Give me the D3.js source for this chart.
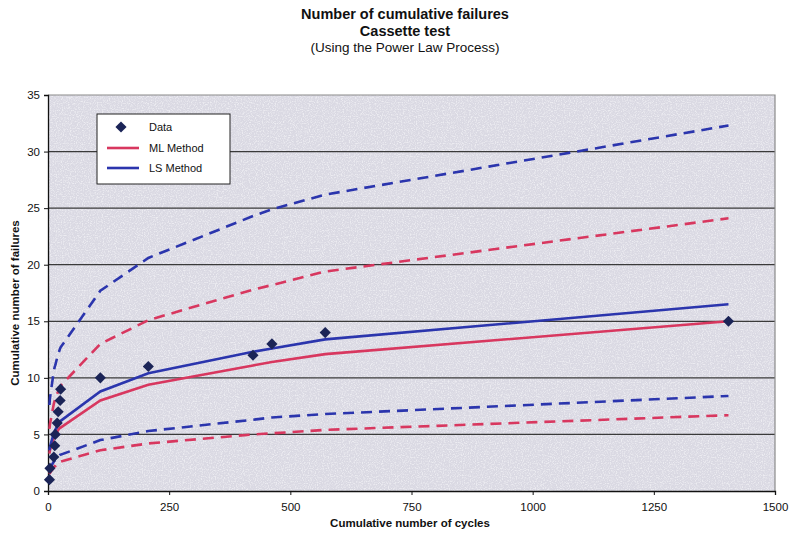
<!DOCTYPE html>
<html>
<head>
<meta charset="utf-8">
<script src="https://cdn.jsdelivr.net/npm/d3@7"></script>
<style>
  html, body { margin: 0; padding: 0; background: #fff; }
  svg { display: block; font-family: "Liberation Sans", Arial, sans-serif; }
</style>
</head>
<body>
<svg id="chart" width="790" height="538"></svg>
<script>
// Observed failure times (cumulative cycles) and the cumulative failure count
const cycles   = [3, 4, 12, 14, 15, 19, 21, 25, 26, 108, 207, 423, 462, 572, 1404];
const failures = [1, 2, 3, 4, 5, 6, 7, 8, 9, 10, 11, 12, 13, 14, 15];

// Power Law Process fits, evaluated at the failure times
const mlFit   = [3.3, 3.6, 4.7, 4.9, 4.9, 5.2, 5.4, 5.6, 5.6, 8.0, 9.4, 11.1, 11.4, 12.1, 15.0];
const mlUpper = [5.5, 5.9, 7.7, 8.0, 8.1, 8.6, 8.8, 9.2, 9.3, 13.0, 15.1, 17.8, 18.2, 19.4, 24.1];
const mlLower = [1.5, 1.6, 2.1, 2.2, 2.2, 2.4, 2.4, 2.5, 2.6, 3.6, 4.2, 5.0, 5.1, 5.4, 6.7];
const lsFit   = [3.6, 3.9, 5.1, 5.3, 5.4, 5.7, 5.9, 6.1, 6.2, 8.8, 10.4, 12.3, 12.6, 13.4, 16.5];
const lsUpper = [7.6, 8.2, 10.6, 11.0, 11.1, 11.8, 12.1, 12.6, 12.7, 17.7, 20.6, 24.3, 24.9, 26.2, 32.3];
const lsLower = [1.9, 2.0, 2.6, 2.7, 2.8, 3.0, 3.0, 3.2, 3.2, 4.5, 5.3, 6.3, 6.5, 6.8, 8.4];

const xTicks = [0, 250, 500, 750, 1000, 1250, 1500];
const yTicks = [0, 5, 10, 15, 20, 25, 30, 35];

const titleLines = ["Number of cumulative failures", "Cassette test", "(Using the Power Law Process)"];
const xTitle = "Cumulative number of cycles";
const yTitle = "Cumulative number of failures";
const legendLabels = ["Data", "ML Method", "LS Method"];

const RED = "#d8375f";
const BLUE = "#2b35ad";
const NAVY = "#1b2457";

const svg = d3.select("#chart");
const plot = { left: 48, top: 95, right: 775, bottom: 491 };

const x = d3.scaleLinear().domain([0, 1500]).range([plot.left, plot.right]);
const y = d3.scaleLinear().domain([0, 35]).range([plot.bottom, plot.top]);

// grainy paper texture for the plot area: sparse white speckles
const defs = svg.append("defs");
const grain = defs.append("filter").attr("id", "grain")
  .attr("x", 0).attr("y", 0).attr("width", "100%").attr("height", "100%");
grain.append("feTurbulence").attr("type", "fractalNoise")
  .attr("baseFrequency", 0.85).attr("numOctaves", 2).attr("seed", 7).attr("result", "n");
grain.append("feColorMatrix").attr("in", "n").attr("type", "matrix")
  .attr("values", "0 0 0 0 1  0 0 0 0 1  0 0 0 0 1  0 0 0 -3.2 1.75");

svg.append("rect")
  .attr("x", plot.left).attr("y", plot.top)
  .attr("width", plot.right - plot.left).attr("height", plot.bottom - plot.top)
  .attr("fill", "#dad9e3");
svg.append("rect")
  .attr("x", plot.left).attr("y", plot.top)
  .attr("width", plot.right - plot.left).attr("height", plot.bottom - plot.top)
  .attr("fill", "#fff").attr("filter", "url(#grain)").attr("opacity", 0.5);

// horizontal gridlines
svg.append("g").selectAll("line")
  .data(yTicks.filter(v => v > 0 && v < 35))
  .join("line")
  .attr("x1", plot.left).attr("x2", plot.right)
  .attr("y1", d => y(d)).attr("y2", d => y(d))
  .attr("stroke", "#3a3a3a").attr("stroke-width", 1.3);

// plot border (top and right)
svg.append("path")
  .attr("d", `M${plot.left},${y(35)}H${plot.right}V${plot.bottom}`)
  .attr("fill", "none").attr("stroke", "#8a8a8a").attr("stroke-width", 1.2);

// axes
const yAxis = d3.axisLeft(y).tickValues(yTicks).tickSize(4).tickPadding(4);
const xAxis = d3.axisBottom(x).tickValues(xTicks).tickFormat(d3.format("d"))
  .tickSize(4).tickPadding(8);

const gy = svg.append("g").attr("transform", `translate(${plot.left},0)`).call(yAxis);
const gx = svg.append("g").attr("transform", `translate(0,${plot.bottom})`).call(xAxis);
[gx, gy].forEach(g => {
  g.selectAll("path.domain").attr("stroke", "#111").attr("stroke-width", 1.3);
  g.selectAll(".tick line").attr("stroke", "#111");
  g.selectAll("text").attr("font-size", 11.5).attr("fill", "#111")
    .attr("font-family", "Liberation Sans, Arial, sans-serif");
});

// fitted curves and confidence bounds
const line = d3.line().x(d => x(d[0])).y(d => y(d[1]));
const series = [
  { values: mlLower, color: RED, dash: "11,7" },
  { values: lsLower, color: BLUE, dash: "11,7" },
  { values: mlUpper, color: RED, dash: "11,7" },
  { values: lsUpper, color: BLUE, dash: "11,7" },
  { values: mlFit, color: RED, dash: null },
  { values: lsFit, color: BLUE, dash: null }
];
svg.append("g").selectAll("path")
  .data(series)
  .join("path")
  .attr("d", s => line(cycles.map((c, i) => [c, s.values[i]])))
  .attr("fill", "none")
  .attr("stroke", s => s.color)
  .attr("stroke-width", 2.6)
  .attr("stroke-dasharray", s => s.dash);

// observed data
const diamond = d3.symbol(d3.symbolSquare, 62)();
svg.append("g").selectAll("path")
  .data(cycles.map((c, i) => [c, failures[i]]))
  .join("path")
  .attr("d", diamond)
  .attr("transform", d => `translate(${x(d[0])},${y(d[1])}) rotate(45)`)
  .attr("fill", NAVY);

// titles
const title = svg.append("g").attr("text-anchor", "middle").attr("fill", "#111");
title.append("text").attr("x", 405).attr("y", 19)
  .attr("font-size", 14.5).attr("font-weight", "bold").text(titleLines[0]);
title.append("text").attr("x", 405).attr("y", 36)
  .attr("font-size", 14.5).attr("font-weight", "bold").text(titleLines[1]);
title.append("text").attr("x", 405).attr("y", 52)
  .attr("font-size", 13.5).text(titleLines[2]);

svg.append("text")
  .attr("x", 410).attr("y", 527)
  .attr("text-anchor", "middle").attr("font-size", 11.5).attr("font-weight", "bold")
  .attr("fill", "#111").text(xTitle);

svg.append("text")
  .attr("transform", `translate(19,${(plot.top + plot.bottom) / 2 + 10}) rotate(-90)`)
  .attr("text-anchor", "middle").attr("font-size", 11.5).attr("font-weight", "bold")
  .attr("fill", "#111").text(yTitle);

// legend
const lg = svg.append("g").attr("transform", "translate(97,114)");
lg.append("rect").attr("width", 133).attr("height", 70)
  .attr("fill", "#fff").attr("stroke", "#222").attr("stroke-width", 1);
lg.append("path").attr("d", diamond)
  .attr("transform", "translate(24,13) rotate(45)").attr("fill", NAVY);
[[RED, 34], [BLUE, 54]].forEach(([c, yy]) => {
  lg.append("line").attr("x1", 10).attr("x2", 42).attr("y1", yy).attr("y2", yy)
    .attr("stroke", c).attr("stroke-width", 2.6);
});
lg.selectAll("text.lab")
  .data(legendLabels)
  .join("text")
  .attr("class", "lab")
  .attr("x", 52).attr("y", (d, i) => 17 + i * 20.5)
  .attr("font-size", 11).attr("fill", "#111")
  .text(d => d);
</script>
</body>
</html>
